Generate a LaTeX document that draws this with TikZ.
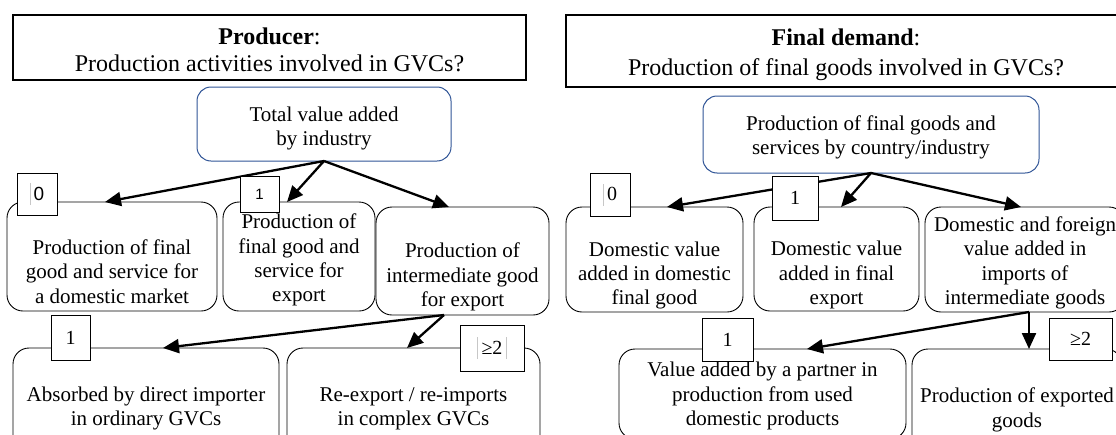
\documentclass[tikz,border=0pt]{standalone}
\usepackage{fontspec}
\setmainfont{Liberation Serif}
\newfontfamily\arialfont{Liberation Sans}
\usetikzlibrary{arrows.meta,calc}
\definecolor{topblue}{RGB}{47,84,150}
\newcommand\gbar{\textcolor{black!22}{\rule[-5pt]{0.8pt}{22pt}}}
\begin{document}
\begin{tikzpicture}[x=1pt,y=-1pt,
  every node/.style={inner sep=0pt, outer sep=0pt, align=center, font=\fontsize{21}{24.3}\selectfont},
  every label/.style={inner sep=0pt, outer sep=0pt, align=center, font=\fontsize{21}{24.3}\selectfont},
  titlebox/.style={draw, line width=1.2pt},
  topbox/.style={draw=topblue, line width=1pt, rounded corners=14pt},
  itembox/.style={draw, line width=0.9pt, rounded corners=16pt},
  numbox/.style={draw, fill=white, line width=1pt, font=\fontsize{20}{22}\selectfont},
  flow/.style={-{Triangle[length=16pt,width=14pt]}, line width=2.3pt},
]
\useasboundingbox (0,0) rectangle (1116,434);
\clip (0,0) rectangle (1116,434);

% ---------------- left panel ----------------
\node[titlebox, minimum width=513pt, minimum height=65pt,
  label={[name=titleLt, yshift=-2pt, font=\fontsize{24}{27}\selectfont]center:{\textbf{Producer}:\\Production activities involved in GVCs?}}]
  (titleL) at (269.5,47.5) {};
\node[topbox, minimum width=254pt, minimum height=74pt,
  label={[name=topLt, yshift=-4.5pt]center:{Total value added\\by industry}}]
  (topL) at (324,124) {};
\node[itembox, minimum width=210pt, minimum height=109pt,
  label={[name=At, yshift=-15pt]center:{Production of final\\good and service for\\a domestic market}}]
  (A) at (112,256.5) {};
\node[itembox, minimum width=152pt, minimum height=109pt,
  label={[name=Bt, yshift=-3.5pt]center:{Production of\\final good and\\service for\\export}}]
  (B) at (299,256.5) {};
\node[itembox, minimum width=173pt, minimum height=108pt,
  label={[name=Ct, yshift=-16pt]center:{Production of\\intermediate good\\for export}}]
  (C) at (462.5,261) {};
\node[itembox, minimum width=266pt, minimum height=116pt,
  label={[name=Dt, yshift=-2.5pt]center:{Absorbed by direct importer\\in ordinary GVCs}}]
  (D) at (146,406) {};
\node[itembox, minimum width=253pt, minimum height=116pt,
  label={[name=Et, yshift=-2.5pt]center:{Re-export / re-imports\\in complex GVCs}}]
  (E) at (413.5,406) {};

\draw[flow] (topL.south) -- ([xshift=98pt]A.north west);
\draw[flow] (topL.south) -- ([xshift=64pt]B.north west);
\draw[flow] (topL.south) -- ([xshift=73pt]C.north west);
\draw[flow] ([xshift=68pt]C.south west) -- ([xshift=150pt]D.north west);
\draw[flow] ([xshift=68pt]C.south west) -- ([xshift=120pt]E.north west);

\node[numbox, minimum width=40pt, minimum height=42pt, font=\fontsize{19}{21}\arialfont] (n0L) at (37,194) {\gbar\,0};
\node[numbox, minimum width=39pt, minimum height=36pt, font=\fontsize{15}{17}\arialfont] (n1L) at (259.5,194) {1};
\node[numbox, minimum width=39pt, minimum height=45pt] (n1Lb) at (70.5,337.5) {1};
\node[numbox, minimum width=64pt, minimum height=46pt] (n2L) at (492,348) {\gbar\,≥2\,\gbar};

% ---------------- right panel ----------------
\node[titlebox, minimum width=560pt, minimum height=72pt,
  label={[name=titleRt, yshift=-4pt, font=\fontsize{24}{30}\selectfont]center:{\textbf{Final demand}:\\Production of final goods involved in GVCs?}}]
  (titleR) at (846,51) {};
\node[topbox, minimum width=336pt, minimum height=77pt,
  label={[name=topRt, yshift=-3pt]center:{Production of final goods and\\services by country/industry}}]
  (topR) at (871,134.5) {};
\node[itembox, minimum width=177pt, minimum height=105pt,
  label={[name=Ft, yshift=-16pt]center:{Domestic value\\added in domestic\\final good}}]
  (F) at (654.5,259.5) {};
\node[itembox, minimum width=165pt, minimum height=104pt,
  label={[name=Gt, yshift=-16pt]center:{Domestic value\\added in final\\export}}]
  (G) at (836.5,259) {};
\node[itembox, minimum width=200pt, minimum height=105pt,
  label={[name=Ht, yshift=-3.5pt]center:{Domestic and foreign\\value added in\\imports of\\intermediate goods}}]
  (H) at (1025,259.5) {};
\node[itembox, minimum width=287pt, minimum height=90pt,
  label={[name=It, yshift=-2pt]center:{Value added by a partner in\\production from used\\domestic products}}]
  (I) at (762.5,394) {};
\node[itembox, minimum width=210pt, minimum height=116pt,
  label={[name=Jt, yshift=-3pt]center:{Production of exported\\goods}}]
  (J) at (1017,407) {};

\draw[flow] (topR.south) -- ([xshift=101pt]F.north west);
\draw[flow] (topR.south) -- ([xshift=87pt]G.north west);
\draw[flow] (topR.south) -- ([xshift=96pt]H.north west);
\draw[flow] ([xshift=104pt]H.south west) -- ([xshift=188pt]I.north west);
\draw[flow] ([xshift=104pt]H.south west) -- ([xshift=117pt]J.north west);

\node[numbox, minimum width=40pt, minimum height=43pt] (n0R) at (610,194.5) {\gbar\,0};
\node[numbox, minimum width=46pt, minimum height=44pt] (n1R) at (795,198) {1};
\node[numbox, minimum width=51pt, minimum height=43pt] (n1Rb) at (727.5,339.5) {1};
\node[numbox, minimum width=63pt, minimum height=42pt] (n2R) at (1080.5,339) {≥2};
\end{tikzpicture}
\end{document}
